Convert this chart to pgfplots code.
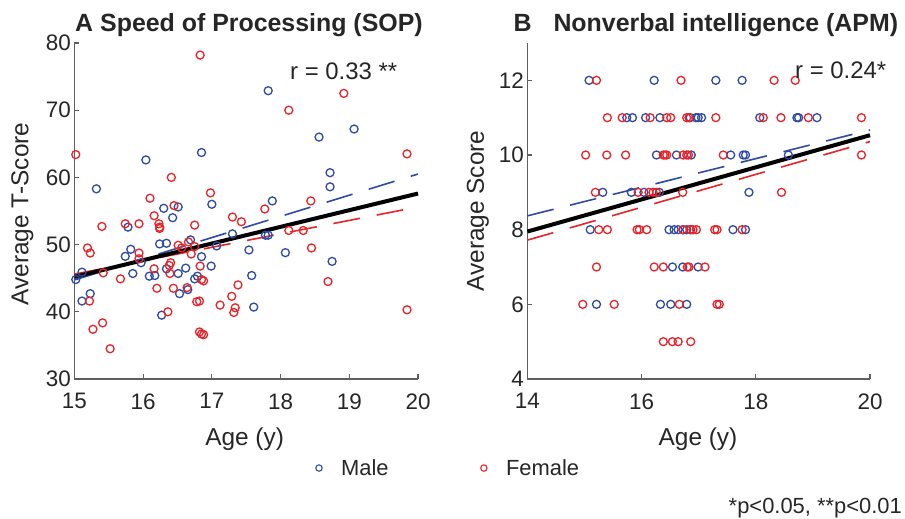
\documentclass[border=0pt]{standalone}
\usepackage{fontspec}
\setmainfont{Liberation Sans}
\usepackage{pgfplots}
\pgfplotsset{compat=1.18}
\definecolor{mblue}{RGB}{45,75,165}
\definecolor{mred}{RGB}{235,35,40}
\definecolor{axgray}{RGB}{95,95,95}
\definecolor{txt}{RGB}{38,38,38}
\pgfplotsset{
 myax/.style={
  scale only axis, height=336bp,
  anchor=south west,
  axis x line*=bottom, axis y line*=left,
  axis line style={-, axgray, line width=1.1bp},
  tick pos=left,
  tick align=inside, major tick length=5bp,
  every tick/.style={axgray, line width=1.1bp},
  tick label style={font=\fontsize{22.5}{26}\selectfont, text=txt},
  xticklabel style={yshift=-11bp},
  /pgf/number format/assume math mode=true,
  clip=false,
 },
 bpts/.style={only marks, mark=o, mark size=4bp, mblue, mark options={line width=1.3bp}},
 rpts/.style={only marks, mark=o, mark size=4bp, mred, mark options={line width=1.3bp}},
 bdash/.style={mblue, line width=1.6bp, dash pattern=on 27bp off 17bp},
 rdash/.style={mred, line width=1.6bp, dash pattern=on 27bp off 17bp},
}
\begin{document}
\begin{tikzpicture}
\useasboundingbox (0,0) rectangle (905bp,519bp);
% ---------------- Panel A ----------------
\begin{axis}[myax, at={(74.4bp,140bp)}, width=343.6bp,
  xmin=15, xmax=20, ymin=30, ymax=80,
  xtick={15,16,17,18,19,20}, ytick={30,40,50,60,70,80},
  legend columns=2,
  legend style={draw=none, fill=none, font=\fontsize{22}{26}\selectfont, text=txt,
    at={(0.6758,-0.265)}, anchor=west,
    /tikz/every even column/.append style={column sep=84bp}},
  legend image code/.code={%
    \draw[mark repeat=2,mark phase=2,#1,mark size=3.2bp, mark options={line width=1.1bp}]
      plot coordinates {(0bp,0bp)(9bp,0bp)(18bp,0bp)};
    \path (0bp,0bp) (29bp,0bp);},
]
\addplot[bpts] coordinates {
(15.02,44.8)(15.11,45.9)(15.11,41.6)(15.23,42.7)(15.32,58.3)(15.78,52.6)
(15.74,48.25)(15.82,49.3)(15.85,45.7)(15.97,47.3)(16.04,62.6)(16.09,45.3)
(16.17,45.4)(16.24,50.1)(16.34,50.2)(16.27,39.5)(16.30,55.4)(16.43,54.0)
(16.51,55.6)(16.34,46.4)(16.51,45.7)(16.53,42.7)(16.62,46.5)(16.65,43.3)
(16.69,50.7)(16.75,44.9)(16.79,45.3)(16.85,48.2)(16.85,63.7)(16.99,46.8)
(17.00,56.0)(17.07,49.8)(17.30,51.6)(17.54,49.2)(17.58,45.4)(17.61,40.7)
(17.78,51.4)(17.82,51.4)(17.82,72.9)(17.88,56.5)(18.07,48.8)(18.56,66.0)
(18.72,60.7)(18.72,58.6)(18.75,47.5)(19.07,67.2)
};
\addlegendentry{Male}
\addplot[rpts] coordinates {
(15.02,63.4)(15.19,49.5)(15.23,48.75)(15.22,41.6)(15.27,37.4)(15.40,52.7)
(15.41,38.35)(15.42,45.8)(15.52,34.5)(15.67,44.9)(15.74,53.1)(15.94,53.1)
(15.94,48.75)(15.94,47.9)(16.10,56.9)(16.16,54.3)(16.16,46.4)(16.20,43.5)
(16.23,53.1)(16.24,52.6)(16.24,52.4)(16.36,40.0)(16.38,46.9)(16.40,47.3)
(16.39,45.7)(16.41,60.0)(16.44,43.5)(16.45,55.8)(16.51,49.9)(16.56,49.5)
(16.64,43.6)(16.66,50.4)(16.70,48.6)(16.75,52.9)(16.75,49.7)(16.78,41.5)
(16.82,41.6)(16.82,37.0)(16.83,46.8)(16.83,78.2)(16.85,44.8)(16.85,36.7)
(16.88,44.6)(16.88,36.6)(16.98,57.7)(17.12,41.0)(17.29,42.3)(17.30,54.1)
(17.32,39.9)(17.34,40.6)(17.38,44.0)(17.43,53.4)(17.77,55.3)(18.12,70.0)
(18.12,52.1)(18.33,52.1)(18.44,56.5)(18.45,49.5)(18.69,44.5)(18.92,72.5)
(19.84,63.5)(19.84,40.3)
};
\addlegendentry{Female}
\addplot[bdash, forget plot] coordinates {(15,44.74)(20,60.5)};
\addplot[rdash, forget plot] coordinates {(15,45.6)(20,55.6)};
\addplot[black, line width=4bp, forget plot] coordinates {(15,45.2)(20,57.6)};
\end{axis}
% ---------------- Panel B ----------------
\begin{axis}[myax, at={(527.4bp,140bp)}, width=342.6bp,
  xmin=14, xmax=20, ymin=4, ymax=13,
  xtick={14,16,18,20}, ytick={4,6,8,10,12},
]
\addplot[bpts] coordinates {
(15.08,12)(16.22,12)(17.30,12)(17.76,12)
(15.74,11)(15.84,11)(16.07,11)(16.32,11)(16.85,11)(16.99,11)(16.95,11)(17.05,11)(18.07,11)(18.72,11)(18.75,11)(19.07,11)
(16.26,10)(16.61,10)(16.87,10)(17.56,10)(17.78,10)(17.82,10)(18.57,10)
(15.32,9)(15.82,9)(16.04,9)(16.31,9)(17.88,9)
(15.10,8)(16.48,8)(16.57,8)(16.64,8)(16.73,8)(16.79,8)(16.85,8)(17.60,8)(17.82,8)
(16.54,7)(16.72,7)(16.99,7)
(15.21,6)(16.33,6)(16.51,6)(16.79,6)
};
\addplot[rpts] coordinates {
(15.21,12)(16.69,12)(18.32,12)(18.69,12)
(15.40,11)(15.66,11)(16.15,11)(16.44,11)(16.51,11)(16.79,11)(16.83,11)(17.30,11)(18.13,11)(18.44,11)(18.92,11)(19.85,11)
(15.02,10)(15.39,10)(15.72,10)(16.38,10)(16.41,10)(16.44,10)(16.73,10)(16.79,10)(16.82,10)(17.43,10)(19.85,10)
(15.19,9)(15.94,9)(16.13,9)(16.20,9)(16.26,9)(16.72,9)(18.45,9)
(15.25,8)(15.40,8)(15.92,8)(15.96,8)(16.09,8)(16.72,8)(16.86,8)(16.90,8)(16.96,8)(17.28,8)(17.32,8)(17.76,8)
(15.21,7)(16.22,7)(16.38,7)(16.80,7)(16.83,7)(17.11,7)
(14.97,6)(15.52,6)(16.66,6)(17.32,6)(17.36,6)
(16.38,5)(16.54,5)(16.64,5)(16.86,5)
};
\addplot[bdash] coordinates {(14,8.37)(20,10.67)};
\addplot[rdash] coordinates {(14,7.72)(20,10.36)};
\addplot[black, line width=4bp] coordinates {(14,7.95)(20,10.53)};
\end{axis}
% ---------------- Texts ----------------
\begin{scope}[every node/.style={inner sep=0pt, text=txt}]
\node[anchor=base west, font=\bfseries\fontsize{25}{29}\selectfont] at (75bp,487bp) {A};
\node[anchor=base west, font=\bfseries\fontsize{25}{29}\selectfont] at (100bp,487bp) {Speed of Processing (SOP)};
\node[anchor=base west, font=\bfseries\fontsize{25}{29}\selectfont] at (513.3bp,487bp) {B};
\node[anchor=base west, font=\bfseries\fontsize{25}{29}\selectfont] at (553.3bp,487bp) {Nonverbal intelligence (APM)};
\node[anchor=base west, font=\fontsize{24}{28}\selectfont] at (290bp,439.7bp) {r = 0.33 **};
\node[anchor=base west, font=\fontsize{24}{28}\selectfont] at (795bp,440.7bp) {r = 0.24*};
\node[rotate=90, font=\fontsize{24.5}{28}\selectfont] at (22.5bp,305bp) {Average T-Score};
\node[rotate=90, font=\fontsize{24.5}{28}\selectfont] at (478bp,308bp) {Average Score};
\node[anchor=base, font=\fontsize{24.5}{28}\selectfont] at (244.6bp,73bp) {Age (y)};
\node[anchor=base, font=\fontsize{24.5}{28}\selectfont] at (698bp,73bp) {Age (y)};
\node[anchor=base east, font=\fontsize{22}{26}\selectfont] at (902bp,6bp) {*p<0.05, **p<0.01};
\end{scope}
\end{tikzpicture}
\end{document}
